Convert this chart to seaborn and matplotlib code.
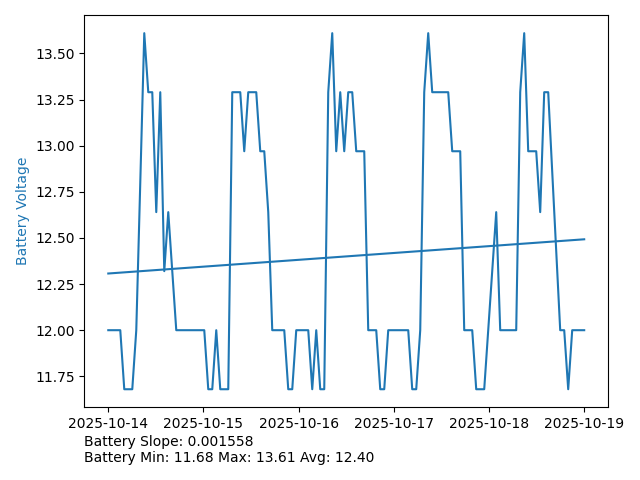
import numpy as np
import pandas as pd
import matplotlib
matplotlib.use("Agg")
import matplotlib.pyplot as plt
import seaborn as sns

# battery readings, roughly hourly from 2025-10-14 to 2025-10-19
start = "2025-10-14"
end = "2025-10-19"
n_samples = 120
voltage = [
    12.00, 12.00, 12.00, 12.00, 11.68, 11.68, 11.68, 12.00, 12.80, 13.61,
    13.29, 13.29, 12.64, 13.29, 12.32, 12.64, 12.32, 12.00, 12.00, 12.00,
    12.00, 12.00, 12.00, 12.00, 12.00, 11.68, 11.68, 12.00, 11.68, 11.68,
    11.68, 13.29, 13.29, 13.29, 12.97, 13.29, 13.29, 13.29, 12.97, 12.97,
    12.64, 12.00, 12.00, 12.00, 12.00, 11.68, 11.68, 12.00, 12.00, 12.00,
    12.00, 11.68, 12.00, 11.68, 11.68, 13.29, 13.61, 12.97, 13.29, 12.97,
    13.29, 13.29, 12.97, 12.97, 12.97, 12.00, 12.00, 12.00, 11.68, 11.68,
    12.00, 12.00, 12.00, 12.00, 12.00, 12.00, 11.68, 11.68, 12.00, 13.29,
    13.61, 13.29, 13.29, 13.29, 13.29, 13.29, 12.97, 12.97, 12.97, 12.00,
    12.00, 12.00, 11.68, 11.68, 11.68, 12.00, 12.32, 12.64, 12.00, 12.00,
    12.00, 12.00, 12.00, 13.29, 13.61, 12.97, 12.97, 12.97, 12.64, 13.29,
    13.29, 12.86, 12.43, 12.00, 12.00, 11.68, 12.00, 12.00, 12.00, 12.00,
]

# summary numbers as printed under the chart
slope = 0.001558
v_min = 11.68
v_max = 13.61
v_avg = 12.40

df = pd.DataFrame({
    "time": pd.date_range(start, end, periods=n_samples),
    "step": np.arange(n_samples),
    "voltage": voltage,
})

# trend line through the average, using the reported slope per sample
df["trend"] = v_avg + slope * (df["step"] - df["step"].mean())

fig, ax = plt.subplots(figsize=(6.4, 4.8), dpi=100)
sns.lineplot(data=df, x="time", y="voltage", color="tab:blue", ax=ax)
sns.lineplot(data=df, x="time", y="trend", color="tab:blue", ax=ax)

ax.set_xlabel("")
ax.set_ylabel("Battery Voltage", color="tab:blue")

fig.subplots_adjust(left=0.132, right=0.95, top=0.968, bottom=0.152)
fig.text(0.132, 0.031,
         f"Battery Slope: {slope:.6f}\n"
         f"Battery Min: {v_min:.2f} Max: {v_max:.2f} Avg: {v_avg:.2f}",
         ha="left", va="bottom", fontsize=10)

plt.savefig("out.png", dpi=100)
plt.close()
